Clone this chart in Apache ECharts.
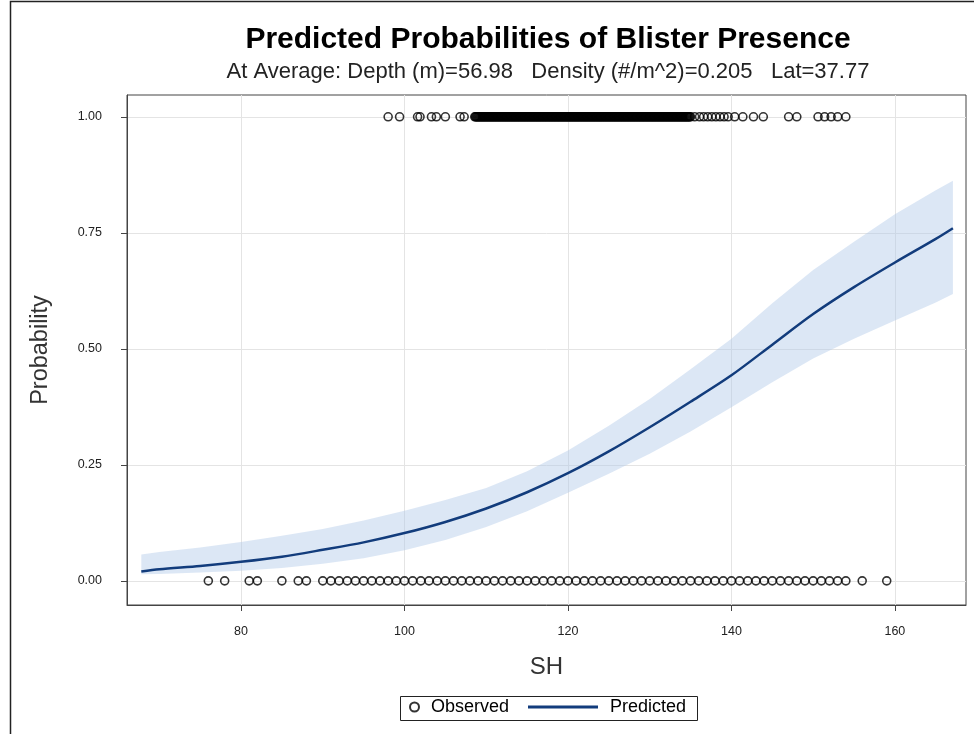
<!DOCTYPE html>
<html>
<head>
<meta charset="utf-8">
<title>Predicted Probabilities of Blister Presence</title>
<script src="https://cdn.jsdelivr.net/npm/echarts@6/dist/echarts.min.js"></script>
<style>
  html, body { margin: 0; padding: 0; background: #fff; }
  #chart { width: 974px; height: 734px; }
</style>
</head>
<body>
<div id="chart"></div>
<script>
// Shell height (SH) grid used for the fitted curve and its confidence limits
const fitSH = [67.8, 70, 75, 80, 85, 90, 95, 100, 105, 110, 115, 120, 125, 130, 135, 140, 145, 150, 155, 160, 165, 167.1];
// Predicted probability of blister presence
const predicted = [0.020, 0.025, 0.032, 0.041, 0.052, 0.067, 0.083, 0.103, 0.127, 0.156, 0.191, 0.232, 0.279, 0.331, 0.386, 0.443, 0.509, 0.575, 0.633, 0.686, 0.737, 0.760];
// 95% confidence limits
const upperCL = [0.057, 0.062, 0.072, 0.084, 0.097, 0.112, 0.130, 0.151, 0.174, 0.200, 0.236, 0.281, 0.334, 0.392, 0.456, 0.522, 0.598, 0.670, 0.731, 0.790, 0.842, 0.862];
const lowerCL = [0.014, 0.015, 0.018, 0.022, 0.028, 0.037, 0.049, 0.066, 0.088, 0.116, 0.150, 0.190, 0.231, 0.274, 0.322, 0.374, 0.428, 0.479, 0.522, 0.561, 0.600, 0.618];

// Observed shell heights with blisters present (response = 1)
const presentSH = [
  98.0, 99.4, 101.6, 101.9, 103.3, 103.9, 105.0, 106.8, 107.3,
  108.6, 108.7, 108.8, 108.9, 109.0, 109.1, 109.2, 109.3, 109.4, 109.5, 109.6, 109.7, 109.8, 109.9,
  110.0, 110.1, 110.2, 110.3, 110.4, 110.5, 110.6, 110.7, 110.8, 110.9, 111.0, 111.1, 111.2, 111.3,
  111.4, 111.5, 111.6, 111.7, 111.8, 111.9, 112.0, 112.1, 112.2, 112.3, 112.4, 112.5, 112.6, 112.7,
  112.8, 112.9, 113.0, 113.1, 113.2, 113.3, 113.4, 113.5, 113.6, 113.7, 113.8, 113.9, 114.0, 114.1,
  114.2, 114.3, 114.4, 114.5, 114.6, 114.7, 114.8, 114.9, 115.0, 115.1, 115.2, 115.3, 115.4, 115.5,
  115.6, 115.7, 115.8, 115.9, 116.0, 116.1, 116.2, 116.3, 116.4, 116.5, 116.6, 116.7, 116.8, 116.9,
  117.0, 117.1, 117.2, 117.3, 117.4, 117.5, 117.6, 117.7, 117.8, 117.9, 118.0, 118.1, 118.2, 118.3,
  118.4, 118.5, 118.6, 118.7, 118.8, 118.9, 119.0, 119.1, 119.2, 119.3, 119.4, 119.5, 119.6, 119.7,
  119.8, 119.9, 120.0, 120.1, 120.2, 120.3, 120.4, 120.5, 120.6, 120.7, 120.8, 120.9, 121.0, 121.1,
  121.2, 121.3, 121.4, 121.5, 121.6, 121.7, 121.8, 121.9, 122.0, 122.1, 122.2, 122.3, 122.4, 122.5,
  122.6, 122.7, 122.8, 122.9, 123.0, 123.1, 123.2, 123.3, 123.4, 123.5, 123.6, 123.7, 123.8, 123.9,
  124.0, 124.1, 124.2, 124.3, 124.4, 124.5, 124.6, 124.7, 124.8, 124.9, 125.0, 125.1, 125.2, 125.3,
  125.4, 125.5, 125.6, 125.7, 125.8, 125.9, 126.0, 126.1, 126.2, 126.3, 126.4, 126.5, 126.6, 126.7,
  126.8, 126.9, 127.0, 127.1, 127.2, 127.3, 127.4, 127.5, 127.6, 127.7, 127.8, 127.9, 128.0, 128.1,
  128.2, 128.3, 128.4, 128.5, 128.6, 128.7, 128.8, 128.9, 129.0, 129.1, 129.2, 129.3, 129.4, 129.5,
  129.6, 129.7, 129.8, 129.9, 130.0, 130.1, 130.2, 130.3, 130.4, 130.5, 130.6, 130.7, 130.8, 130.9,
  131.0, 131.1, 131.2, 131.3, 131.4, 131.5, 131.6, 131.7, 131.8, 131.9, 132.0, 132.1, 132.2, 132.3,
  132.4, 132.5, 132.6, 132.7, 132.8, 132.9, 133.0, 133.1, 133.2, 133.3, 133.4, 133.5, 133.6, 133.7,
  133.8, 133.9, 134.0, 134.1, 134.2, 134.3, 134.4, 134.5, 134.6, 134.7, 134.8, 134.9, 135.0,
  135.5, 136.1, 136.6, 137.1, 137.6, 138.1, 138.6, 139.1, 139.6, 140.4, 141.4, 142.7, 143.9,
  147.0, 148.0, 150.6, 151.4, 152.2, 153.0, 154.0
];
// Observed shell heights with no blisters (response = 0)
const absentSH = [
  76, 78, 81, 82, 85, 87, 88,
  90, 91, 92, 93, 94, 95, 96, 97, 98, 99, 100, 101, 102, 103, 104, 105, 106, 107, 108, 109,
  110, 111, 112, 113, 114, 115, 116, 117, 118, 119, 120, 121, 122, 123, 124, 125, 126, 127, 128, 129,
  130, 131, 132, 133, 134, 135, 136, 137, 138, 139, 140, 141, 142, 143, 144, 145, 146, 147, 148, 149,
  150, 151, 152, 153, 154, 156, 159
];

const xTicks = [80, 100, 120, 140, 160];
const yTicks = [0, 0.25, 0.5, 0.75, 1];

const FONT = '"Liberation Sans", Arial, sans-serif';
const LINE_COLOR = '#123c7c';
const AXIS_COLOR = '#444';

const observedData = presentSH.map(v => [v, 1]).concat(absentSH.map(v => [v, 0]));
const predictedData = fitSH.map((v, i) => [v, predicted[i]]);

const chart = echarts.init(document.getElementById('chart'), null, { renderer: 'canvas' });

chart.setOption({
  backgroundColor: '#fff',
  animation: false,
  textStyle: { fontFamily: FONT },
  title: [
    {
      text: 'Predicted Probabilities of Blister Presence',
      left: 548, top: 25, textAlign: 'center', padding: 0,
      textStyle: { fontFamily: FONT, fontSize: 30, fontWeight: 'bold', color: '#000' }
    },
    {
      text: 'At Average: Depth (m)=56.98   Density (#/m^2)=0.205   Lat=37.77',
      left: 548, top: 61, textAlign: 'center', padding: 0,
      textStyle: { fontFamily: FONT, fontSize: 22, fontWeight: 'normal', color: '#222' }
    }
  ],
  grid: {
    left: 127, right: 8, top: 95, bottom: 129,
    show: true, borderColor: AXIS_COLOR, borderWidth: 1, backgroundColor: 'transparent'
  },
  legend: [
    {
      data: [{ name: 'Observed', icon: 'circle' }],
      left: 409, top: 698, padding: 0,
      itemWidth: 9, itemHeight: 9, itemGap: 0,
      textStyle: { fontFamily: FONT, fontSize: 18, color: '#000', padding: [0, 0, 0, 7] }
    },
    {
      data: [{ name: 'Predicted', icon: 'rect' }],
      left: 528, top: 698, padding: 0,
      itemWidth: 70, itemHeight: 3,
      textStyle: { fontFamily: FONT, fontSize: 18, color: '#000', padding: [0, 0, 0, 7] }
    }
  ],
  graphic: [
    // legend frame
    { type: 'rect', left: 398, top: 694, shape: { width: 297, height: 24 },
      style: { fill: 'none', stroke: '#222', lineWidth: 1 }, silent: true },
    // outer frame of the graph
    { type: 'polyline', shape: { points: [[10.5, 734], [10.5, 1.5], [974, 1.5]] },
      style: { fill: 'none', stroke: '#222', lineWidth: 1.5 }, silent: true }
  ],
  xAxis: {
    type: 'value',
    min: 66.05, max: 168.7,
    name: 'SH',
    nameLocation: 'middle',
    nameGap: 50,
    nameTextStyle: { fontFamily: FONT, fontSize: 24, color: '#333' },
    axisLine: { show: true, onZero: false, lineStyle: { color: AXIS_COLOR, width: 1 } },
    axisTick: { show: true, length: 6, customValues: xTicks, lineStyle: { color: AXIS_COLOR } },
    axisLabel: { customValues: xTicks, margin: 20, fontFamily: FONT, fontSize: 12.5, color: '#222' },
    splitLine: { show: true, lineStyle: { color: '#e4e4e4', width: 1 } }
  },
  yAxis: {
    type: 'value',
    min: -0.052, max: 1.047,
    name: 'Probability',
    nameLocation: 'middle',
    nameGap: 74,
    nameRotate: 90,
    nameTextStyle: { fontFamily: FONT, fontSize: 23.5, color: '#333' },
    axisLine: { show: true, onZero: false, lineStyle: { color: AXIS_COLOR, width: 1 } },
    axisTick: { show: true, length: 6, customValues: yTicks, lineStyle: { color: AXIS_COLOR } },
    axisLabel: {
      customValues: yTicks, margin: 25, fontFamily: FONT, fontSize: 12.5, color: '#222',
      formatter: v => v.toFixed(2)
    },
    splitLine: { show: true, lineStyle: { color: '#e4e4e4', width: 1 } }
  },
  series: [
    {
      // confidence band between lower and upper limits
      name: 'Confidence Limits',
      type: 'custom',
      z: 1,
      silent: true,
      data: [0],
      renderItem: function (params, api) {
        const pts = [];
        for (let i = 0; i < fitSH.length; i++) pts.push(api.coord([fitSH[i], upperCL[i]]));
        for (let i = fitSH.length - 1; i >= 0; i--) pts.push(api.coord([fitSH[i], lowerCL[i]]));
        return {
          type: 'polygon',
          shape: { points: pts },
          style: { fill: 'rgba(178,202,232,0.45)', stroke: 'none' }
        };
      }
    },
    {
      name: 'Predicted',
      type: 'line',
      z: 3,
      data: predictedData,
      smooth: 0.3,
      symbol: 'none',
      lineStyle: { color: LINE_COLOR, width: 2.5 },
      itemStyle: { color: LINE_COLOR }
    },
    {
      name: 'Observed',
      type: 'scatter',
      z: 4,
      data: observedData,
      symbol: 'circle',
      symbolSize: 8,
      large: false,
      // hollow markers so overlapping outlines build up
      itemStyle: { color: 'rgba(255,255,255,0)', borderColor: '#000', borderWidth: 1.6 }
    }
  ]
});
</script>
</body>
</html>
